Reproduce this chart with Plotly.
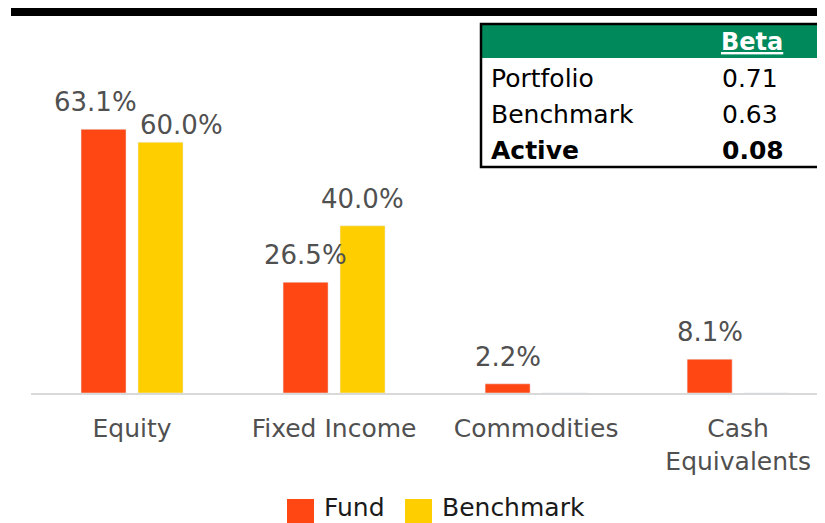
import plotly.graph_objects as go

# data
categories = ["Equity", "Fixed Income", "Commodities", "Cash<br>Equivalents"]
fund = [63.1, 26.5, 2.2, 8.1]
benchmark = [60.0, 40.0, 0.0, 0.0]
beta_rows = ["Portfolio", "Benchmark", "Active"]
beta_values = [0.71, 0.63, 0.08]

FUND_COLOR = "#FF4713"
BENCH_COLOR = "#FFCE00"
GREEN = "#00895A"
LABEL_GRAY = "#505050"
FONT = "DejaVu Sans"

# page body adds an 8px margin, so the layout is laid out 8px up/left
OFF = 8
W, H = 825, 523
ML, MR, MT, MB = 31 - OFF, OFF, 30 - OFF, 130 + OFF
PW, PH = W - ML - MR, H - MT - MB


def px(x):
    return (x - OFF - ML) / PW


def py(y):
    return (H - MB - (y - OFF)) / PH


fig = go.Figure()
fig.add_trace(go.Bar(x=categories, y=fund, name="Fund", marker_color=FUND_COLOR,
                     showlegend=False))
fig.add_trace(go.Bar(x=categories, y=benchmark, name="Benchmark", marker_color=BENCH_COLOR,
                     showlegend=False))

# value labels above bars (small nudges where the equity labels overlap)
nudge = {(0, 0): (-8, 0), (1, 0): (21, -10)}
annotations = []
for s, vals in enumerate([fund, benchmark]):
    for i, v in enumerate(vals):
        if v == 0:
            continue
        dx, dy = nudge.get((s, i), (0, 0))
        annotations.append(dict(
            x=categories[i], y=v, xref="x", yref="y", text=f"{v:.1f}%",
            showarrow=False, xshift=(-28.5 if s == 0 else 28.5) + dx, yshift=27 + dy,
            yanchor="middle", font=dict(size=26, color=LABEL_GRAY, family=FONT)))

# beta table
shapes = [
    dict(type="rect", xref="paper", yref="paper", x0=px(11), x1=px(840), y0=py(16), y1=py(8),
         fillcolor="black", line_width=0, layer="above"),
    dict(type="rect", xref="paper", yref="paper", x0=px(482), x1=px(840), y0=py(58), y1=py(25),
         fillcolor=GREEN, line_width=0, layer="above"),
    dict(type="rect", xref="paper", yref="paper", x0=px(481), x1=px(840), y0=py(167), y1=py(24),
         line=dict(color="black", width=2.5), layer="above"),
]
annotations.append(dict(x=px(719), y=py(42), xref="paper", yref="paper", text="<b><u>Beta</u></b>",
                        showarrow=False, xanchor="left", yanchor="middle",
                        font=dict(size=24, color="white", family=FONT)))
row_y = [78, 114, 150]
for r, (name, val) in enumerate(zip(beta_rows, beta_values)):
    bold = r == len(beta_rows) - 1
    lab = f"<b>{name}</b>" if bold else name
    vtxt = f"<b>{val:.2f}</b>" if bold else f"{val:.2f}"
    annotations.append(dict(x=px(489), y=py(row_y[r]), xref="paper", yref="paper", text=lab,
                            showarrow=False, xanchor="left", yanchor="middle",
                            font=dict(size=25, color="black", family=FONT)))
    annotations.append(dict(x=px(720), y=py(row_y[r]), xref="paper", yref="paper", text=vtxt,
                            showarrow=False, xanchor="left", yanchor="middle",
                            font=dict(size=25, color="black", family=FONT)))

# legend drawn by hand so the swatches are large
for x0, color, name in [(287, FUND_COLOR, "Fund"), (405, BENCH_COLOR, "Benchmark")]:
    shapes.append(dict(type="rect", xref="paper", yref="paper", x0=px(x0), x1=px(x0 + 27),
                       y0=py(530), y1=py(499), fillcolor=color, line_width=0))
    annotations.append(dict(x=px(x0 + 35), y=py(507), xref="paper", yref="paper", text=name,
                            showarrow=False, xanchor="left", yanchor="middle",
                            font=dict(size=25, color="#1a1a1a", family=FONT)))

fig.update_layout(
    width=W, height=H,
    margin=dict(l=ML, r=MR, t=MT, b=MB, pad=0),
    paper_bgcolor="white", plot_bgcolor="white",
    barmode="group", bargap=0.436, bargroupgap=0.21,
    font=dict(family=FONT, color=LABEL_GRAY),
    shapes=shapes, annotations=annotations,
    showlegend=False,
)
fig.update_xaxes(range=[-0.5, 3.43], showline=True, linecolor="#d9d9d9", linewidth=2,
                 showgrid=False, ticks="", ticklabelstandoff=12,
                 tickfont=dict(size=25, color=LABEL_GRAY, family=FONT))
fig.update_yaxes(range=[0, PH / 4.18], visible=False, showgrid=False, zeroline=False)

fig.write_html("out.html")
